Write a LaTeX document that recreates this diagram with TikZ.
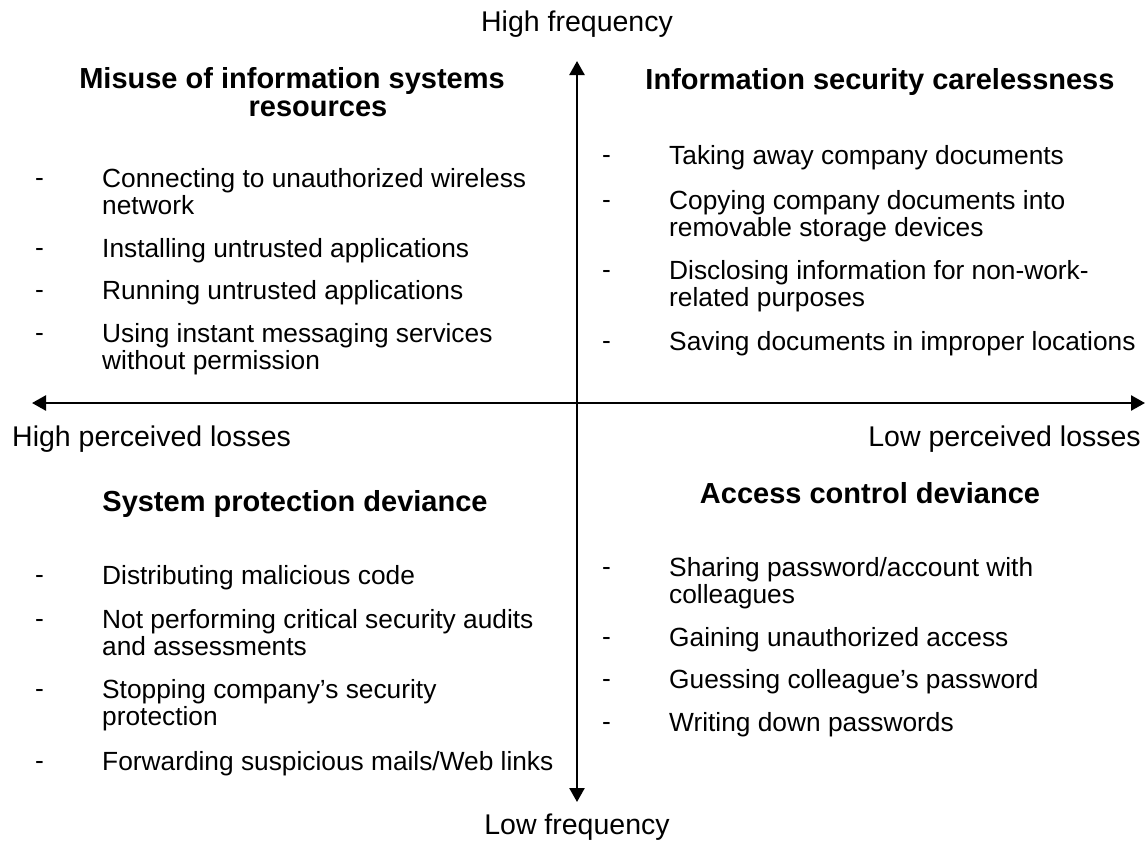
\documentclass[tikz,border=0pt]{standalone}
\usepackage{fontspec}
\setmainfont{Liberation Sans}
\usetikzlibrary{arrows.meta}
\begin{document}
\begin{tikzpicture}[x=1pt,y=-1pt,
  item/.style={anchor=base west,inner sep=0pt,align=left,font=\fontsize{26.3}{27}\selectfont},
  dashmark/.style={anchor=base west,inner sep=0pt,font=\fontsize{26.3}{27}\selectfont},
  heading/.style={anchor=base,inner sep=0pt,align=center,font=\fontsize{29}{28}\selectfont\bfseries},
  axislabel/.style={inner sep=0pt,font=\fontsize{28.5}{30}\selectfont},
  axis/.style={line width=2.5pt,{Triangle[length=14pt,width=15pt]}-{Triangle[length=14pt,width=15pt]}}]
\useasboundingbox (0,0) rectangle (1145,841);
\coordinate (top) at (577,61);
\coordinate (bottom) at (577,802);
\coordinate (left) at (32,403);
\coordinate (right) at (1145,403);
\draw[axis] (bottom) -- (top);
\draw[axis] (left) -- (right);
\node[axislabel,anchor=base] (hf) at (577,31) {High frequency};
\node[axislabel,anchor=base] (lf) at (577,834) {Low frequency};
\node[axislabel,anchor=base west] (hpl) at (12,446) {High perceived losses};
\node[axislabel,anchor=base east] (lpl) at (1141,446) {Low perceived losses};
% top left (base = last line)
\node[heading] (h1) at (318,116) {Misuse of information systems\hspace*{52pt}\\resources};
\node[dashmark] (d11) at (35,186) {-};
\node[item] (t11) at (102,214) {Connecting to unauthorized wireless\\network};
\node[dashmark] (d12) at (35,256) {-};
\node[item] (t12) at (102,257) {Installing untrusted applications};
\node[dashmark] (d13) at (35,298) {-};
\node[item] (t13) at (102,299) {Running untrusted applications};
\node[dashmark] (d14) at (35,341) {-};
\node[item] (t14) at (102,369) {Using instant messaging services\\without permission};
% top right
\node[heading] (h2) at (880,89) {Information security carelessness};
\node[dashmark] (d21) at (602,163) {-};
\node[item] (t21) at (669,164) {Taking away company documents};
\node[dashmark] (d22) at (602,208) {-};
\node[item] (t22) at (669,236) {Copying company documents into\\removable storage devices};
\node[dashmark] (d23) at (602,278) {-};
\node[item] (t23) at (669,306) {Disclosing information for non-work-\\related purposes};
\node[dashmark] (d24) at (602,349) {-};
\node[item] (t24) at (669,350) {Saving documents in improper locations};
% bottom left
\node[heading] (h3) at (295,511) {System protection deviance};
\node[dashmark] (d31) at (35,583) {-};
\node[item] (t31) at (102,584) {Distributing malicious code};
\node[dashmark] (d32) at (35,627) {-};
\node[item] (t32) at (102,655) {Not performing critical security audits\\and assessments};
\node[dashmark] (d33) at (35,697) {-};
\node[item] (t33) at (102,725) {Stopping company’s security\\protection};
\node[dashmark] (d34) at (35,769) {-};
\node[item] (t34) at (102,770) {Forwarding suspicious mails/Web links};
% bottom right
\node[heading] (h4) at (870,503) {Access control deviance};
\node[dashmark] (d41) at (602,575) {-};
\node[item] (t41) at (669,603) {Sharing password/account with\\colleagues};
\node[dashmark] (d42) at (602,645) {-};
\node[item] (t42) at (669,646) {Gaining unauthorized access};
\node[dashmark] (d43) at (602,687) {-};
\node[item] (t43) at (669,688) {Guessing colleague’s password};
\node[dashmark] (d44) at (602,730) {-};
\node[item] (t44) at (669,731) {Writing down passwords};
\end{tikzpicture}
\end{document}
